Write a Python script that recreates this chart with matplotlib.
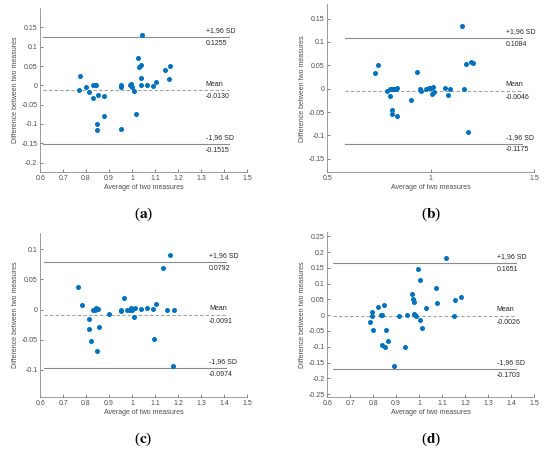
import matplotlib.pyplot as plt
import numpy as np

plt.rcParams['font.family'] = ['Liberation Sans', 'DejaVu Sans']

# Bland-Altman data
a_avg = [0.767, 0.773, 0.800, 0.814, 0.830, 0.831, 0.840, 0.843, 0.850, 0.847, 0.846,
         0.880, 0.877, 0.951, 0.951, 0.953, 0.989, 0.996, 1.000, 1.009, 1.016, 1.027,
         1.031, 1.040, 1.043, 1.040, 1.039, 1.064, 1.090, 1.104, 1.143, 1.159, 1.166]
a_diff = [-0.012, 0.023, -0.003, -0.017, 0.000, -0.032, 0.000, 0.002, -0.024, -0.099, -0.115,
          -0.027, -0.079, -0.113, 0.000, -0.003, 0.000, 0.003, -0.003, -0.014, -0.073, 0.072,
          0.047, 0.053, 0.130, 0.018, 0.000, 0.001, -0.001, 0.008, 0.040, 0.017, 0.051]

b_avg = [0.733, 0.747, 0.788, 0.803, 0.805, 0.813, 0.813, 0.813, 0.825, 0.833, 0.837,
         0.837, 0.903, 0.933, 0.950, 0.953, 0.978, 0.990, 1.000, 1.013, 1.008, 1.018,
         1.068, 1.085, 1.095, 1.152, 1.160, 1.173, 1.195, 1.203, 1.183]
b_diff = [0.034, 0.050, -0.004, 0.000, -0.016, 0.000, -0.045, -0.054, 0.000, 0.000, 0.001,
          -0.059, -0.024, 0.035, 0.000, -0.004, 0.000, 0.002, 0.001, 0.003, -0.012, -0.008,
          0.002, -0.013, 0.000, 0.133, 0.000, 0.052, 0.058, 0.055, -0.093]

c_avg = [0.766, 0.780, 0.814, 0.813, 0.823, 0.830, 0.837, 0.844, 0.849, 0.853, 0.856,
         0.899, 0.951, 0.953, 0.964, 0.980, 0.990, 0.996, 0.999, 1.009, 1.014, 1.039,
         1.066, 1.089, 1.097, 1.104, 1.134, 1.151, 1.166, 1.176, 1.184]
c_diff = [0.038, 0.007, -0.016, -0.032, -0.053, 0.000, -0.001, 0.002, -0.068, 0.001, -0.029,
          -0.007, 0.000, -0.002, 0.020, 0.000, 0.000, 0.003, -0.001, -0.013, 0.002, 0.001,
          0.002, 0.001, -0.049, 0.009, 0.069, 0.000, 0.090, -0.094, 0.000]

d_avg = [0.786, 0.793, 0.794, 0.800, 0.820, 0.833, 0.837, 0.839, 0.849, 0.852, 0.855,
         0.865, 0.891, 0.912, 0.937, 0.948, 0.970, 0.974, 0.976, 0.977, 0.981, 0.988,
         0.997, 1.004, 1.004, 1.013, 1.030, 1.073, 1.076, 1.117, 1.150, 1.158, 1.181]
d_diff = [-0.022, 0.010, -0.003, -0.047, 0.026, 0.001, -0.001, -0.096, 0.033, -0.101, -0.047,
          -0.081, -0.160, -0.004, -0.100, -0.001, 0.066, 0.051, 0.042, 0.003, 0.000, -0.002,
          0.147, 0.111, -0.014, -0.040, 0.024, 0.085, 0.039, 0.182, -0.002, 0.049, 0.058]

means = [-0.0130, -0.0046, -0.0091, -0.0026]
upper = [0.1255, 0.1084, 0.0792, 0.1651]
lower = [-0.1515, -0.1175, -0.0974, -0.1703]
letters = ['a', 'b', 'c', 'd']

fig = plt.figure(figsize=(5.5, 4.5), dpi=100)

panels = [
    # avg, diff, axes rect, xlim, ylim, xticks, yticks, line span, text x
    (a_avg, a_diff, [0.073, 0.618, 0.376, 0.364], (0.6, 1.5), (-0.224, 0.2),
     np.arange(0.6, 1.51, 0.1), np.arange(-0.2, 0.16, 0.05), (0.612, 1.42), 1.32),
    (b_avg, b_diff, [0.595, 0.618, 0.376, 0.372], (0.5, 1.5), (-0.178, 0.18),
     [0.5, 1.0, 1.5], np.arange(-0.15, 0.16, 0.05), (0.588, 1.44), 1.363),
    (c_avg, c_diff, [0.073, 0.118, 0.376, 0.364], (0.6, 1.5), (-0.145, 0.127),
     np.arange(0.6, 1.51, 0.1), np.arange(-0.1, 0.11, 0.05), (0.615, 1.41), 1.335),
    (d_avg, d_diff, [0.595, 0.118, 0.376, 0.366], (0.6, 1.5), (-0.259, 0.263),
     np.arange(0.6, 1.51, 0.1), np.arange(-0.25, 0.26, 0.05), (0.625, 1.42), 1.337),
]

def fmt(v):
    v = round(float(v), 4)
    if v == 0:
        return '0'
    return '%g' % v

for i, (xs, ys, rect, xl, yl, xt, yt, span, tx) in enumerate(panels):
    ax = fig.add_axes(rect)
    ax.scatter(xs, ys, s=13, color='#0072BD', zorder=3, linewidths=0)
    ax.plot(span, [upper[i]] * 2, color='#8c8c8c', lw=0.8)
    ax.plot(span, [lower[i]] * 2, color='#8c8c8c', lw=0.8)
    ax.plot(span, [means[i]] * 2, color='#a0a0a0', lw=0.8, ls=(0, (3, 2)))

    for val, name in [(upper[i], '+1,96 SD'), (means[i], 'Mean'), (lower[i], '-1,96 SD')]:
        ax.annotate(name, (tx, val), xytext=(0, 4.5), textcoords='offset points',
                    fontsize=5, va='center', ha='left', color='#262626')
        ax.annotate('%.4f' % val, (tx, val), xytext=(0, -4.5), textcoords='offset points',
                    fontsize=5, va='center', ha='left', color='#262626')

    ax.set_xlim(*xl)
    ax.set_ylim(*yl)
    ax.set_xticks(xt)
    ax.set_yticks(yt)
    ax.set_xticklabels([fmt(v) for v in xt])
    ax.set_yticklabels([fmt(v) for v in yt])
    ax.tick_params(labelsize=5, colors='#4d4d4d', direction='in', length=2, width=0.5, pad=2)
    for side in ['top', 'right']:
        ax.spines[side].set_visible(False)
    for side in ['left', 'bottom']:
        ax.spines[side].set_color('#8c8c8c')
        ax.spines[side].set_linewidth(0.6)
    ax.set_xlabel('Average of two measures', fontsize=5, color='#4d4d4d', labelpad=2)
    ax.set_ylabel('Difference between two measures', fontsize=5, color='#4d4d4d', labelpad=2)

    cx = rect[0] + rect[2] / 2
    fig.text(cx, rect[1] - 0.095, '(' + r'$\mathbf{' + letters[i] + '}$' + ')',
             ha='center', va='center', fontsize=11, family='Liberation Serif',
             math_fontfamily='stix')

fig.savefig('out.png', dpi=100)
